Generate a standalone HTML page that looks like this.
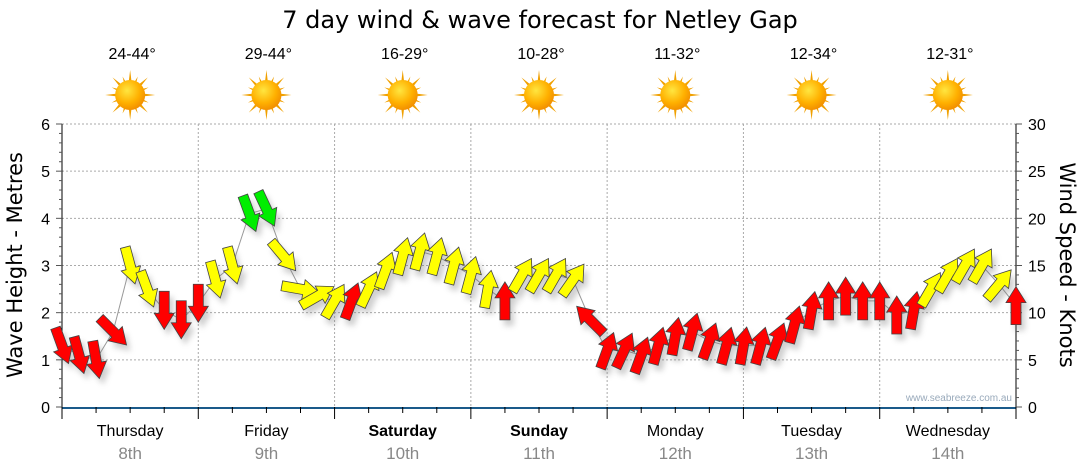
<!DOCTYPE html>
<html><head><meta charset="utf-8"><style>
body{margin:0;background:#fff;font-family:"Liberation Sans",sans-serif;}
svg{display:block}
</style></head><body>
<svg id="c" width="1080" height="475">
<defs>
<radialGradient id="sg" cx="0.4" cy="0.35" r="0.7"><stop offset="0" stop-color="#ffe640"/><stop offset="0.6" stop-color="#ffb000"/><stop offset="1" stop-color="#f08a00"/></radialGradient>
<filter id="sh" x="-50%" y="-50%" width="200%" height="200%"><feGaussianBlur stdDeviation="3"/></filter>
</defs>
</svg>
<script>
const days=["Thursday","Friday","Saturday","Sunday","Monday","Tuesday","Wednesday"];
const dates=["8th","9th","10th","11th","12th","13th","14th"];
const boldDays=[false,false,true,true,false,false,false];
const temps=["24-44°","29-44°","16-29°","10-28°","11-32°","12-34°","12-31°"];
const waveTicks=[0,1,2,3,4,5,6];
const windTicks=[0,5,10,15,20,25,30];
// 3-hourly series
const waveHeight=[1.3,1.1,1.0,1.6,3.0,2.5,2.05,1.85,2.2,2.7,3.0,4.1,4.2,3.2,2.5,2.35,2.25,2.25,2.5,2.9,3.2,3.3,3.2,3.0,2.8,2.5,2.25,2.8,2.8,2.8,2.7,1.85,1.2,1.2,1.1,1.3,1.5,1.6,1.4,1.3,1.3,1.3,1.4,1.75,2.05,2.25,2.35,2.25,2.25,1.95,2.05,2.5,2.8,3.0,3.0,2.6,2.15];
const windDir=[160,165,170,135,165,160,180,180,180,165,165,160,155,140,100,60,30,20,25,20,15,15,15,15,15,10,0,30,30,30,35,315,20,25,20,15,10,15,20,15,10,15,20,15,10,0,0,0,0,0,10,30,30,30,30,40,0];
const windSpeed=[6,5,5,7,13,12,8,8,9,12,13,20,21,14,12,12,11,8,13,13,14,14,13,13,12,12,8,12,12,12,12,7,6,6,6,7,7,8,7,6,6,6,7,8,8,9,9,9,9,8,9,12,13,13,13,12,9];
const svg=document.getElementById('c');
const NS='http://www.w3.org/2000/svg';
const X0=62,X1=1016,Y0=407,Y1=124;
const dayW=(X1-X0)/7;
const yW=v=>Y0-(v-0)/6*(Y0-Y1);
const yK=v=>Y0-v/30*(Y0-Y1);
const xT=i=>X0+i*dayW/8;
function el(t,a,p){const e=document.createElementNS(NS,t);for(const k in a)e.setAttribute(k,a[k]);(p||svg).appendChild(e);return e;}
function txt(x,y,s,a){const e=el('text',Object.assign({x:x,y:y},a));e.textContent=s;return e;}
let t=txt(540,28,"7 day wind & wave forecast for Netley Gap",{'font-size':24,'text-anchor':'middle',fill:'#000','font-family':'DejaVu Sans, sans-serif'});

// grid
for(const v of waveTicks){if(v===0)continue;const l=el('line',{x1:X0,x2:X1,y1:yW(v),y2:yW(v),stroke:'#aaa','stroke-dasharray':'2,2'});
}
for(let d=1;d<7;d++){const x=X0+d*dayW;const l=el('line',{x1:x,x2:x,y1:Y1,y2:Y0,stroke:'#aaa','stroke-dasharray':'2,2'});
}
// axes
el('line',{x1:X0,x2:X0,y1:Y1,y2:Y0,stroke:'#000'});
el('line',{x1:X1,x2:X1,y1:Y1,y2:Y0,stroke:'#000'});
for(let i=0;i<=30;i++){const y=Y0-i*(Y0-Y1)/30;el('line',{x1:X0-(i%5?3:6),x2:X0,y1:y,y2:y,stroke:'#555'});el('line',{x1:X1,x2:X1+(i%5?3:6),y1:y,y2:y,stroke:'#555'});}
for(const v of waveTicks){const e=txt(50,yW(v)+6,String(v),{'font-size':16,'text-anchor':'end'});}
for(const v of windTicks){const e=txt(1028,yK(v)+6,String(v),{'font-size':16});}
let yl=txt(0,0,"Wave Height - Metres",{'font-size':21,'text-anchor':'middle',transform:'translate(22,265) rotate(-90)','font-family':'DejaVu Sans, sans-serif'});

let yr=txt(0,0,"Wind Speed - Knots",{'font-size':21,'text-anchor':'middle',transform:'translate(1060,265) rotate(90)','font-family':'DejaVu Sans, sans-serif'});

el('line',{x1:X0,x2:X1,y1:Y0+1,y2:Y0+1,stroke:'#1a5a8a','stroke-width':2});
for(let i=0;i<=28;i++){const x=X0+i*dayW/4;el('line',{x1:x,x2:x,y1:Y0,y2:Y0+(i%4?6:12),stroke:'#000'});}
for(let d=0;d<7;d++){const cx=X0+(d+0.5)*dayW;
let a=txt(cx,436,days[d],{'font-size':16,'text-anchor':'middle','font-weight':boldDays[d]?'bold':'normal'});
let b=txt(cx,459,dates[d],{'font-size':17,'text-anchor':'middle',fill:'#888'});
let c=txt(cx+2,59,temps[d],{'font-size':16,'text-anchor':'middle'});
const g=el('g',{transform:`translate(${cx},95)`});
for(let k=0;k<16;k++){const L=k%2?20:25;el('polygon',{points:`-3,0 3,0 0,-${L}`,fill:'#f0a000',transform:`rotate(${k*22.5})`},g);}
el('circle',{r:15,fill:'url(#sg)'},g);}
let wm=txt(1012,401,"www.seabreeze.com.au",{'font-size':10,'text-anchor':'end',fill:'#9ab'});
// line
let pts=waveHeight.map((v,i)=>xT(i)+','+yW(v)).join(' ');
let pl=el('polyline',{points:pts,fill:'none',stroke:'#999','stroke-width':1});
const ap="-5,-19 5,-19 5,3 10,3 0,19 -10,3 -5,3";
const col=s=>s<10?'#ff0000':(s<18?'#ffff00':'#00ee00');
const sh=el('g',{filter:'url(#sh)',opacity:0.35});
waveHeight.forEach((v,i)=>{el('polygon',{points:ap,fill:'#777',transform:`translate(${xT(i)+4},${yW(v)+6}) rotate(${windDir[i]+180})`},sh);});
waveHeight.forEach((v,i)=>{const p=el('polygon',{points:ap,fill:col(windSpeed[i]),stroke:'#444','stroke-width':0.8,transform:`translate(${xT(i)},${yW(v)}) rotate(${windDir[i]+180})`});
});
</script>
</body></html>
